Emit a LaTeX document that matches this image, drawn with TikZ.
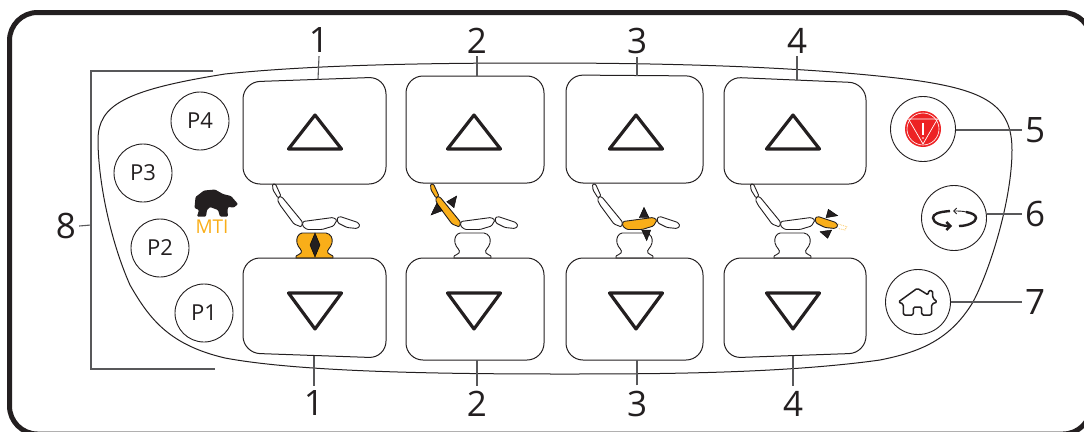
\documentclass[tikz,border=0pt]{standalone}
\usepackage{fontspec}
\setmainfont{Open Sans}
\usetikzlibrary{arrows.meta,positioning,calc}
\definecolor{dark}{HTML}{231F20}
\definecolor{leadgray}{HTML}{58585A}
\definecolor{amber}{HTML}{F9AE19}
\definecolor{stopred}{HTML}{ED2224}
\tikzset{
  frameline/.style={draw=dark, line width=5pt, rounded corners=28pt},
  panel/.style={draw=dark, line width=1pt},
  keyline/.style={draw=dark, line width=1pt, rounded corners=17pt},
  tri/.style={draw=dark, line width=3.2pt, line join=round},
  presetbtn/.style={circle, draw=dark, line width=0.9pt, minimum size=58pt, inner sep=0pt, font=\fontsize{22}{22}\selectfont, text=dark},
  sidebtn/.style={circle, draw=dark, line width=0.9pt, minimum size=65pt, inner sep=0pt},
  numlabel/.style={inner sep=3pt, text=dark, font=\fontsize{35}{35}\selectfont},
  lowlabel/.style={numlabel, inner sep=5pt},
  leader/.style={draw=leadgray, line width=1.1pt},
  chairpart/.style={draw=dark, line width=0.9pt, rounded corners=1.2pt},
  marker/.style={fill=dark}
}
% one key: name, left, right, top left, top right, bottom left, bottom right
\newcommand{\keybtn}[6]{
  \draw[keyline] (#1,#3) -- (#2,#4) -- (#2,#6) -- (#1,#5) -- cycle;
}
% chair: shift, head, back, seat, leg, base
\newcommand{\dchair}[6]{
  \begin{scope}[xshift=#1]
    \draw[chairpart, fill=#2] (272.5,184) -- (275.5,184) -- (281,196) -- (278,198) -- (273,190) -- cycle;
    \draw[chairpart, fill=#3] (279,196.5) -- (282,197) -- (302.5,222) -- (301.5,227) -- (294,224) -- (280,205) -- (277.5,200) -- cycle;
    \draw[chairpart, fill=#4] (303,221.5) -- (333,217.5) -- (337,220) -- (333.5,226) -- (322,229.5) -- (307,229.5) -- (302.5,226) -- cycle;
    \draw[chairpart, fill=#5] (337,218) -- (340,216.5) -- (358,222.5) -- (360,226) -- (357,228.5) -- (347,227.5) -- (338,223) -- cycle;
    \draw[draw=dark, line width=0.9pt, fill=#6] (302,233) -- (326,233) .. controls (331,234) and (333,238) .. (332,243)
      .. controls (331,248) and (326,250) .. (328,253) .. controls (329,255) and (333,255) .. (333,256.5) -- (333,258) -- (296,258) -- (296,256.5)
      .. controls (296,255) and (300,255) .. (301,253) .. controls (303,250) and (298,248) .. (297,243)
      .. controls (296,238) and (298,234) .. (302,233) -- cycle;
  \end{scope}
}

\begin{document}
\begin{tikzpicture}[x=1pt, y=-1pt]
  \useasboundingbox (0,0) rectangle (1084,431);
  \clip (0,0) rectangle (1084,431);
  \draw[frameline] (9.5,12.5) rectangle (1091,434);

  % panel outline
  \draw[panel] (98,140) .. controls (98,105) and (125,90) .. (225,74)
    .. controls (320,64) and (450,63) .. (540,63)
    .. controls (690,63) and (820,68) .. (913,80)
    .. controls (985,90) and (1012,105) .. (1012,150)
    .. controls (1012,200) and (990,270) .. (973,302)
    .. controls (950,340) and (920,352) .. (880,360)
    .. controls (780,374) and (650,374) .. (560,374)
    .. controls (440,374) and (300,372) .. (225,358)
    .. controls (170,345) and (150,320) .. (130,285)
    .. controls (110,240) and (98,180) .. (98,140) -- cycle;

  % chairs
  \dchair{0}{white}{white}{white}{white}{amber}
  \dchair{158}{amber}{amber}{white}{white}{white}
  \dchair{320}{white}{white}{amber}{white}{white}
  \dchair{478}{white}{white}{white}{amber}{white}
  \draw[marker] (315,233) -- (320,245) -- (315,257) -- (310,245) -- cycle;
  \draw[marker] (446.7,201.7) -- (456.7,196) -- (454,207.7) -- cycle;
  \draw[marker] (431,215) -- (436.7,203.3) -- (442.3,210.7) -- cycle;
  \draw[marker] (644,207.3) -- (649,217.7) -- (639.3,217.7) -- cycle;
  \draw[marker] (646.7,240.7) -- (650.7,230) -- (641.7,230) -- cycle;
  \draw[marker] (828.3,209.3) -- (837.7,215.7) -- (826,217.7) -- cycle;
  \draw[marker] (820,231.7) -- (831.7,230) -- (827.7,238.3) -- cycle;
  \draw[amber!70, densely dotted, line width=0.8pt] (838,224) -- (846.7,226.7) -- (845,230) -- (838,228.5);

  % keys
  \keybtn{243}{386}{82}{77}{184}{184}
  \keybtn{406}{544}{76}{76}{183}{183}
  \keybtn{566}{703}{75}{76}{183}{183}
  \keybtn{724}{866}{77}{83}{184}{184}
  \keybtn{243}{386}{258}{258}{353}{358}
  \keybtn{406}{544}{258}{258}{360}{360}
  \keybtn{566}{703}{258}{258}{360}{360}
  \keybtn{724}{866}{258}{258}{358}{353}
  \foreach \x in {315,474,636,793}{
    \draw[tri] (\x,115) -- (\x+26.5,149) -- (\x-26.5,149) -- cycle;
    \draw[tri] (\x,329) -- (\x+26.5,293) -- (\x-26.5,293) -- cycle;
  }

  % preset buttons
  \node[presetbtn] (p4) at (200,121) {P4};
  \node[presetbtn] (p3) at (143,173) {P3};
  \node[presetbtn] (p2) at (160,248) {P2};
  \node[presetbtn] (p1) at (204,313) {P1};

  % logo
  \fill[dark, rounded corners=1pt] (194.5,208) -- (195.5,197) -- (204,190.5) -- (215,189.5) -- (223,194) -- (231,196) -- (238,204) -- (234,207.5) -- (228,207) -- (227.5,211) -- (228,216.5) -- (220,216.5) -- (218,210) -- (210,207) -- (207,210) -- (206,216.5) -- (197,216.5) -- (199,210) -- cycle;
  \node[text=amber, inner sep=0pt, font=\fontsize{19}{19}\selectfont] (mti) at (212,227) {MTI};

  % side buttons
  \node[sidebtn] (stopbtn) at (923,129) {};
  \node[sidebtn] (cyclebtn) at (954,218) {};
  \node[sidebtn] (homebtn) at (918,302) {};
  \fill[stopred] (stopbtn.center) circle (18);
  \draw[white, line width=0.6pt] (stopbtn.center) circle (16);
  \draw[white, line width=0.7pt, line join=round] (908.5,119) -- (937.5,119) -- (923,144) -- cycle;
  \draw[white, line width=1.2pt] (923,123) -- (923,135);
  \fill[white] (923,138) circle (0.8);
  \draw[dark, line width=2.4pt, -{Straight Barb[length=4pt, width=8pt]}] (950,211) .. controls (938,212) and (933,214) .. (933,218) .. controls (933,223) and (942,226) .. (952,226);
  \draw[dark, line width=2.4pt] (959,226) .. controls (968,226) and (976,222) .. (976,218) .. controls (976,215) and (972,213) .. (966,212);
  \draw[dark, line width=0.9pt, -{Straight Barb[length=3pt, width=6pt]}] (966,212) .. controls (963,211) and (958,211) .. (953,211);
  \draw[dark, line width=1.5pt, rounded corners=1.5pt, line join=round] (903.3,315) -- (903.3,304) -- (898.3,302) -- (917.3,288.3) -- (928.3,295) -- (928.3,290.7) -- (932.7,290.7) -- (932.7,298) -- (937.3,302) -- (931.7,304) -- (931.7,315) -- (921.7,315) -- (921.7,307) -- (913.3,307) -- (913.3,315) -- cycle;

  % numbers
  \node[numlabel] (top1) at (319,40.5) {1};
  \node[numlabel] (top2) at (477,40.5) {2};
  \node[numlabel] (top3) at (637,40.5) {3};
  \node[numlabel] (top4) at (797,40.5) {4};
  \node[lowlabel] (low1) at (314,403.5) {1};
  \node[lowlabel] (low2) at (477,403.5) {2};
  \node[lowlabel] (low3) at (637,403.5) {3};
  \node[lowlabel] (low4) at (793,403.5) {4};
  \node[numlabel] (lab5) at (1035,130) {5};
  \node[numlabel] (lab6) at (1035,214) {6};
  \node[numlabel] (lab7) at (1035,302) {7};
  \node[numlabel] (lab8) at (66,226) {8};

  \coordinate (keytop1) at (318,79.5);
  \coordinate (keytop2) at (477,76);
  \coordinate (keytop3) at (637,76);
  \coordinate (keytop4) at (797,80);
  \coordinate (keylow1) at (314,356);
  \coordinate (keylow2) at (477,360);
  \coordinate (keylow3) at (637,360);
  \coordinate (keylow4) at (793,356);
  \foreach \n in {1,2,3,4}{
    \draw[leader] (top\n.south) -- (keytop\n);
    \draw[leader] (low\n.north) -- (keylow\n);
  }
  \draw[leader] (stopbtn.east |- lab5.west) -- (lab5.west);
  \draw[leader] (cyclebtn.east |- lab6.west) -- (lab6.west);
  \draw[leader] (homebtn.east |- lab7.west) -- (lab7.west);

  % bracket
  \coordinate (brkmid) at (91,225);
  \coordinate (brktop) at (213,71);
  \coordinate (brklow) at (215,369);
  \draw[leader] (brktop) -- (brktop -| brkmid) -- (brklow -| brkmid) -- (brklow);
  \draw[leader] (lab8.east) -- (brkmid);
\end{tikzpicture}
\end{document}
